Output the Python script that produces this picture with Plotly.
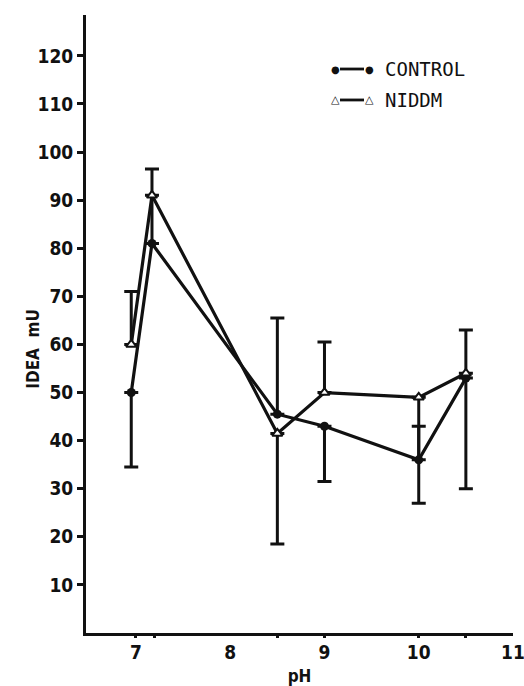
import plotly.graph_objects as go

ph = [6.95, 7.17, 8.5, 9.0, 10.0, 10.5]
control = [50, 81, 45.5, 43, 36, 53]
niddm = [60, 91, 41.5, 50, 49, 54]
control_err_minus = [15.5, 0, 0, 11.5, 0, 23]
control_err_plus = [0, 0, 20, 0, 7, 0]
niddm_err_minus = [0, 0, 23, 0, 22, 0]
niddm_err_plus = [11, 5.5, 0, 10.5, 0, 9]
stem_plus = [0, 10, 0, 0, 0, 0]  # uncapped segment linking the two means at pH 7.2

x_ticks = [7, 8, 9, 10, 11]
x_marks = [7, 7.2, 8.5, 9, 10, 10.5]
y_ticks = [10, 20, 30, 40, 50, 60, 70, 80, 90, 100, 110, 120]

FONT = "DejaVu Sans Condensed, Liberation Sans Narrow, sans-serif"
MONO = "DejaVu Sans Mono, Liberation Mono, monospace"
INK = "#111111"

fig = go.Figure()

fig.add_trace(go.Scatter(
    x=ph, y=control, mode="markers", showlegend=False,
    marker=dict(size=0.1, color="rgba(0,0,0,0)"),
    error_y=dict(type="data", symmetric=False, array=stem_plus, arrayminus=[0]*6,
                 color=INK, thickness=3, width=0),
))

fig.add_trace(go.Scatter(
    x=ph, y=control, mode="lines+markers", name="CONTROL", showlegend=False,
    line=dict(color=INK, width=3.2),
    marker=dict(symbol="circle", size=9, color=INK),
    error_y=dict(type="data", symmetric=False, array=control_err_plus,
                 arrayminus=control_err_minus, color=INK, thickness=3, width=7),
))

fig.add_trace(go.Scatter(
    x=ph, y=niddm, mode="lines+markers", name="NIDDM", showlegend=False,
    line=dict(color=INK, width=3.2),
    marker=dict(symbol="triangle-up", size=9, color="white",
                line=dict(color=INK, width=2)),
    error_y=dict(type="data", symmetric=False, array=niddm_err_plus,
                 arrayminus=niddm_err_minus, color=INK, thickness=3, width=7),
))

# helper trace on overlay axis for tick marks without labels
fig.add_trace(go.Scatter(x=[6.47, 11], y=[0, 0], xaxis="x2", mode="lines",
                         line=dict(width=0), showlegend=False, hoverinfo="skip"))

fig.update_layout(
    width=524, height=686,
    margin=dict(l=86, r=11, t=15, b=53),
    paper_bgcolor="white", plot_bgcolor="white",
    font=dict(family=FONT, color=INK, size=17),
    xaxis=dict(range=[6.47, 11.0], tickvals=x_ticks, ticks="", automargin=False,
               ticklabeloverflow="allow",
               showgrid=False, zeroline=False, showline=True,
               linecolor=INK, linewidth=3,
               tickfont=dict(family=FONT, size=19, color=INK, weight="bold"),
               title=dict(text="pH", standoff=12,
                          font=dict(family=FONT, size=17, color=INK, weight="bold"))),
    xaxis2=dict(range=[6.47, 11.0], overlaying="x", anchor="y",
                tickvals=x_marks, ticks="outside", ticklen=4, tickwidth=2.5,
                tickcolor=INK, showticklabels=False, showgrid=False,
                zeroline=False, showline=False, side="bottom"),
    yaxis=dict(range=[0, 128.5], tickvals=y_ticks, ticks="outside", automargin=False,
               ticklen=6, tickwidth=2.5, tickcolor=INK,
               showgrid=False, zeroline=False, showline=True,
               linecolor=INK, linewidth=3,
               tickfont=dict(family=FONT, size=19, color=INK, weight="bold")),
)

fig.add_annotation(xref="paper", yref="paper", x=0, y=0.46, xshift=-53,
                   xanchor="center", yanchor="middle", showarrow=False,
                   textangle=-90, text="IDEA  mU",
                   font=dict(family=FONT, size=17, color=INK, weight="bold"))

# legend (drawn by hand to reproduce the symbol—line—symbol key)
PW = 427.0  # plot width in px
leg_rows = [("CONTROL", "●", 10, 0.9126), ("NIDDM", "△", 11, 0.8625)]
for label, sym, sz, yy in leg_rows:
    for px in (249, 283):
        fig.add_annotation(xref="paper", yref="paper", x=px / PW, y=yy,
                           xanchor="center", yanchor="middle", showarrow=False,
                           text=sym, font=dict(family="DejaVu Sans", size=sz, color=INK))
    fig.add_shape(type="line", xref="paper", yref="paper",
                  x0=254 / PW, x1=278 / PW, y0=yy, y1=yy,
                  line=dict(color=INK, width=2.8))
    fig.add_annotation(xref="paper", yref="paper", x=297 / PW, y=yy,
                       xanchor="left", yanchor="middle", showarrow=False,
                       text=label, font=dict(family=MONO, size=19, color=INK))

fig.write_html("out.html", config={"displayModeBar": False},
               post_script="document.body.style.margin='0';document.body.style.overflow='hidden';")
